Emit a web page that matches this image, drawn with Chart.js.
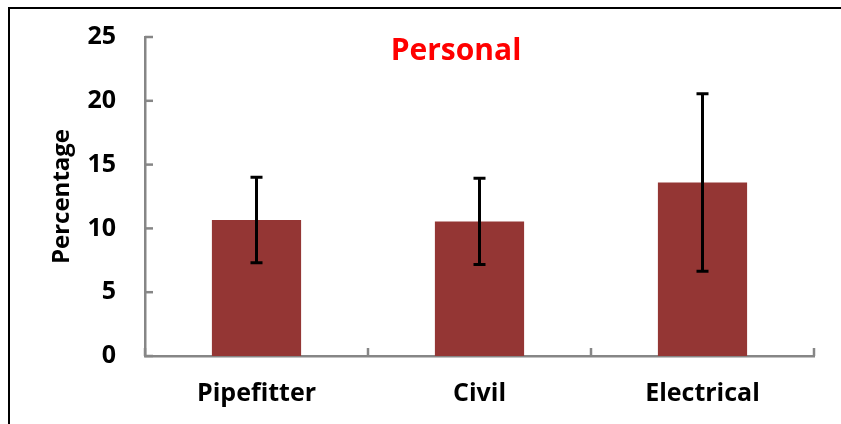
<!DOCTYPE html>
<html>
<head>
<meta charset="utf-8">
<script src="https://cdn.jsdelivr.net/npm/chart.js@4"></script>
<style>
  html, body { margin: 0; padding: 0; background: #fff; }
  #wrap { position: relative; width: 841px; height: 424px; }
  #frame { position: absolute; left: 8px; top: 7px; right: -4px; bottom: -4px; border-top: 2px solid #000; border-left: 2px solid #000; pointer-events: none; }
</style>
</head>
<body>
<div id="wrap">
  <canvas id="chart" width="841" height="424"></canvas>
  <div id="frame"></div>
</div>
<script>
// Datos
const categorias = ["Pipefitter", "Civil", "Electrical"];
const valores = [10.65, 10.55, 13.6];
const errores = [3.35, 3.38, 6.95];
const ticksY = [0, 5, 10, 15, 20, 25];

const fuente = "'Open Sans', 'Noto Sans', sans-serif";

// barras de error y marcas interiores de los ejes
const extras = {
    id: "extras",
    afterDatasetsDraw(chart) {
        const ctx = chart.ctx;
        const x = chart.scales.x;
        const y = chart.scales.y;
        const area = chart.chartArea;

        ctx.save();
        // marcas del eje y (hacia dentro)
        ctx.strokeStyle = "#868686";
        ctx.lineWidth = 2.5;
        ticksY.forEach(t => {
            const py = y.getPixelForValue(t);
            ctx.beginPath();
            ctx.moveTo(area.left, py);
            ctx.lineTo(area.left + 8, py);
            ctx.stroke();
        });
        // marcas del eje x entre categorias
        for (let i = 0; i <= categorias.length; i++) {
            const px = x.getPixelForValue(i - 0.5);
            ctx.beginPath();
            ctx.moveTo(px, area.bottom);
            ctx.lineTo(px, area.bottom - 8);
            ctx.stroke();
        }

        // barras de error
        ctx.strokeStyle = "#000";
        ctx.lineWidth = 3;
        valores.forEach((v, i) => {
            const px = x.getPixelForValue(i);
            const top = y.getPixelForValue(v + errores[i]);
            const bot = y.getPixelForValue(v - errores[i]);
            ctx.beginPath();
            ctx.moveTo(px, top);
            ctx.lineTo(px, bot);
            ctx.moveTo(px - 6, top);
            ctx.lineTo(px + 6, top);
            ctx.moveTo(px - 6, bot);
            ctx.lineTo(px + 6, bot);
            ctx.stroke();
        });

        // titulo dentro del grafico
        ctx.fillStyle = "#FF0000";
        ctx.font = "bold 30px " + fuente;
        ctx.textAlign = "center";
        ctx.textBaseline = "middle";
        ctx.fillText("Personal", 456, 51);
        ctx.restore();
    }
};

const chart = new Chart(document.getElementById("chart"), {
    type: "bar",
    data: {
        labels: categorias,
        datasets: [{
            data: valores,
            backgroundColor: "#943634",
            categoryPercentage: 1,
            barPercentage: 0.4
        }]
    },
    options: {
        responsive: false,
        animation: false,
        layout: { padding: { top: 37, right: 27, left: 0, bottom: 0 } },
        plugins: {
            legend: { display: false },
            tooltip: { enabled: false }
        },
        scales: {
            x: {
                afterFit: s => { s.height = 68; s.paddingLeft = 0; s.paddingRight = 0; },
                grid: { display: false, drawTicks: false },
                border: { display: true, color: "#868686", width: 2.5 },
                ticks: {
                    color: "#000",
                    padding: 23,
                    font: { family: fuente, size: 25, weight: "bold" }
                }
            },
            y: {
                min: 0,
                max: 25,
                afterFit: s => { s.width = 145; s.paddingTop = 0; s.paddingBottom = 0; },
                afterBuildTicks: s => { s.ticks = ticksY.map(v => ({ value: v })); },
                grid: { display: false, drawTicks: false },
                border: { display: true, color: "#868686", width: 2.5 },
                ticks: {
                    color: "#000",
                    padding: 29,
                    font: { family: fuente, size: 25, weight: "bold" }
                },
                title: {
                    display: true,
                    text: "Percentage",
                    color: "#000",
                    padding: { top: 48, bottom: 0 },
                    font: { family: fuente, size: 24, weight: "bold" }
                }
            }
        }
    },
    plugins: [extras]
});
</script>
</body>
</html>
